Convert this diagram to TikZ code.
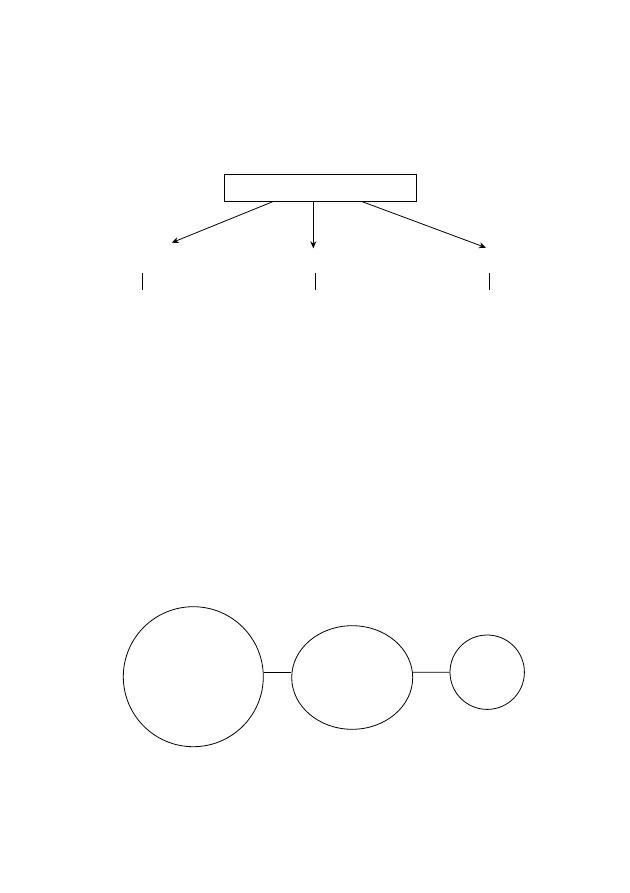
\documentclass[tikz,border=0pt]{standalone}
\usetikzlibrary{shapes.geometric,arrows.meta}
\begin{document}
\begin{tikzpicture}[x=1pt,y=-1pt,
  every path/.style={line width=0.8pt},
  boxnode/.style={draw,rectangle,inner sep=0pt,minimum width=192.4pt,minimum height=27.4pt},
  roundnode/.style={draw,circle,inner sep=0pt},
  ovalnode/.style={draw,ellipse,inner sep=0pt},
  arr/.style={-{Stealth[length=7pt,width=6pt]}}]
\useasboundingbox (0,0) rectangle (629,893);
\node[boxnode] (top) at (320.5,188) {};
\coordinate (tl) at (272.7,201.7);
\coordinate (tm) at (313.3,201.7);
\coordinate (tr) at (362.3,201.7);
\coordinate (el) at (171.7,242.7);
\coordinate (em) at (313.3,248.3);
\coordinate (er) at (486,247.7);
\draw[arr] (tl) -- (el);
\draw[arr] (tm) -- (em);
\draw[arr] (tr) -- (er);
\coordinate (b1a) at (142.3,273.3); \coordinate (b1b) at (142.3,290);
\coordinate (b2a) at (315,273.3); \coordinate (b2b) at (315,290);
\coordinate (b3a) at (489.3,273.3); \coordinate (b3b) at (489.3,290);
\draw (b1a) -- (b1b);
\draw (b2a) -- (b2b);
\draw (b3a) -- (b3b);
\node[roundnode,minimum size=140pt] (c1) at (193.3,676.7) {};
\node[ovalnode,minimum width=121pt,minimum height=103.6pt] (c2) at (352.2,677.5) {};
\node[roundnode,minimum size=74.4pt] (c3) at (487.2,672.2) {};
\draw (c1.east |- 0,672.3) -- (c2.west |- 0,672.3);
\draw (c2.east |- 0,672.3) -- (c3.west);
\end{tikzpicture}
\end{document}
